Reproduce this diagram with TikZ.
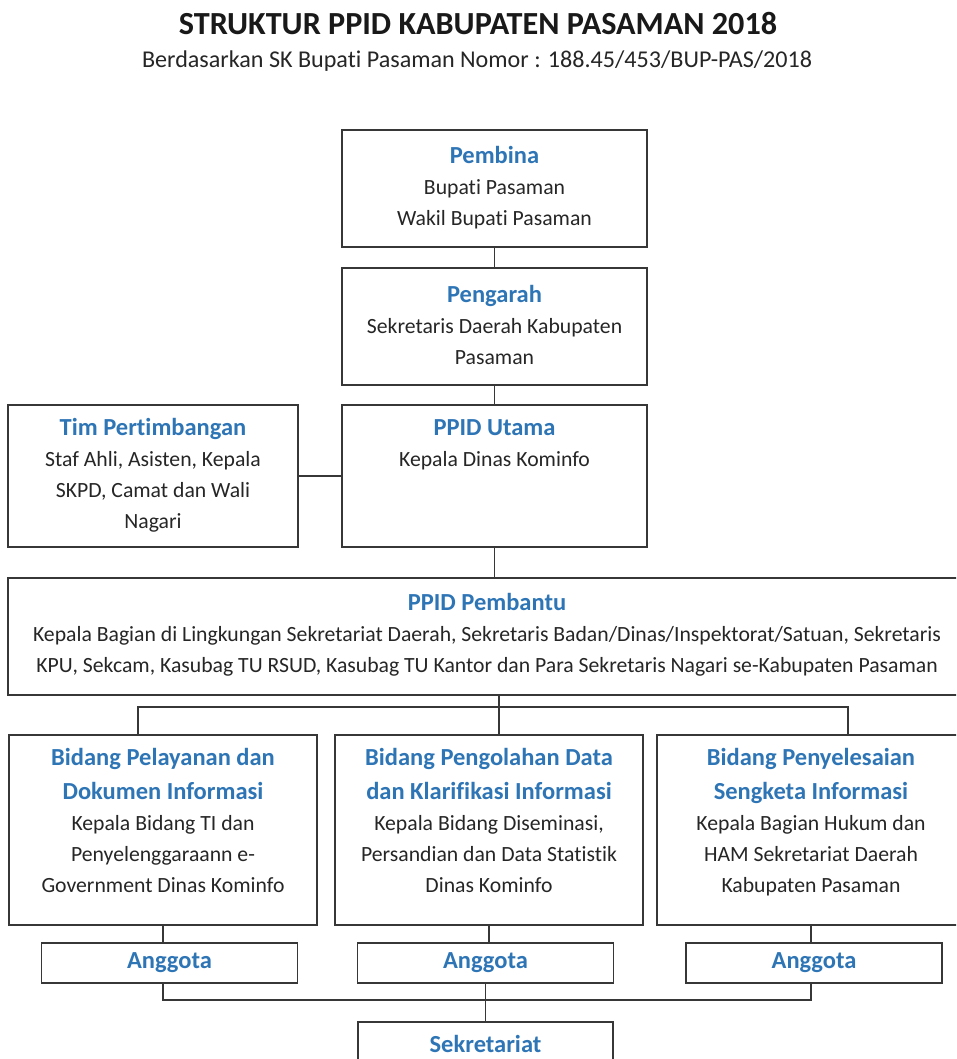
\documentclass[tikz,border=0pt]{standalone}
\usepackage{fontspec}
\setmainfont{Carlito}[Ligatures=NoCommon]
\usetikzlibrary{positioning}

\definecolor{headblue}{RGB}{46,117,182}
\definecolor{bodygray}{RGB}{38,38,38}
\definecolor{linegray}{RGB}{55,55,55}

\newcommand\headsize{\fontsize{24.5}{34}\selectfont}
\newcommand\headf{\headsize\bfseries\color{headblue}}
\newcommand\bodyf{\fontsize{21.7}{31}\selectfont}
\newcommand\hstrut{\rule{0pt}{20pt}}

\tikzset{
  orgbox/.style={draw=linegray, line width=1.7pt, fill=white, inner sep=0pt},
  boxtext/.style={inner sep=0pt, align=center, font=\bodyf, text=bodygray},
  anggota/.style={orgbox, minimum width=256pt, minimum height=40pt, font=\headsize\bfseries, text=headblue},
  link/.style={draw=linegray, line width=1.7pt}
}

\begin{document}
\begin{tikzpicture}[x=1pt,y=-1pt]
\useasboundingbox (0,0) rectangle (956,1059);
\clip (0,0) rectangle (956,1059);
\fill[white] (0,0) rectangle (956,1059);

% judul
\node[font=\fontsize{32.2}{38}\selectfont\bfseries, text=black!90] (title) at (478,23.5) {STRUKTUR PPID KABUPATEN PASAMAN 2018};
\node[font=\fontsize{24.1}{28}\selectfont, text=bodygray] (subtitle) at (477,61) {Berdasarkan SK Bupati Pasaman Nomor : 188.45/453/BUP-PAS/2018};

% kotak atas
\node[orgbox, minimum width=305pt, minimum height=117pt] (pembina) at (494.5,188.5) {};
\node[orgbox, minimum width=305pt, minimum height=117pt] (pengarah) at (494.5,326.5) {};
\node[orgbox, minimum width=305pt, minimum height=142pt] (utama) at (494.5,476) {};
\node[orgbox, minimum width=290pt, minimum height=142pt] (tim) at (153,476) {};
\node[orgbox, minimum width=958pt, minimum height=117pt] (pembantu) at (487,636.5) {};

% bidang
\node[orgbox, minimum width=308pt, minimum height=190pt] (bid1) at (163,830) {};
\node[orgbox, minimum width=308pt, minimum height=190pt] (bid2) at (489,830) {};
\node[orgbox, minimum width=308pt, minimum height=190pt] (bid3) at (811,830) {};

\node[anggota] (ang1) at (169.5,963) {Anggota};
\node[anggota] (ang2) at (485.5,963) {Anggota};
\node[anggota] (ang3) at (814,963) {Anggota};

\node[orgbox, minimum width=255pt, minimum height=60pt] (sek) at (485.5,1052) {};

% teks kotak
\node[boxtext, below=14pt of pembina.north] (pembina-t) {\hstrut{\headf Pembina}\\Bupati Pasaman\\Wakil Bupati Pasaman};
\node[boxtext, below=15pt of pengarah.north] (pengarah-t) {\hstrut{\headf Pengarah}\\Sekretaris Daerah Kabupaten\\Pasaman};
\node[boxtext, below=11pt of utama.north] (utama-t) {\hstrut{\headf PPID Utama}\\Kepala Dinas Kominfo};
\node[boxtext, below=11pt of tim.north] (tim-t) {\hstrut{\headf Tim Pertimbangan}\\Staf Ahli, Asisten, Kepala\\SKPD, Camat dan Wali\\Nagari};
\node[boxtext, below=13pt of pembantu.north] (pembantu-t) {\hstrut{\headf PPID Pembantu}\\Kepala Bagian di Lingkungan Sekretariat Daerah, Sekretaris Badan/Dinas/Inspektorat/Satuan, Sekretaris\\KPU, Sekcam, Kasubag TU RSUD, Kasubag TU Kantor dan Para Sekretaris Nagari se-Kabupaten Pasaman};
\node[boxtext, below=11pt of bid1.north] (bid1-t) {\hstrut{\headf Bidang Pelayanan dan}\\[3pt]{\headf Dokumen Informasi}\\Kepala Bidang TI dan\\Penyelenggaraann e-\\Government Dinas Kominfo};
\node[boxtext, below=11pt of bid2.north] (bid2-t) {\hstrut{\headf Bidang Pengolahan Data}\\[3pt]{\headf dan Klarifikasi Informasi}\\Kepala Bidang Diseminasi,\\Persandian dan Data Statistik\\Dinas Kominfo};
\node[boxtext, below=11pt of bid3.north] (bid3-t) {\hstrut{\headf Bidang Penyelesaian}\\[3pt]{\headf Sengketa Informasi}\\Kepala Bagian Hukum dan\\HAM Sekretariat Daerah\\Kabupaten Pasaman};
\node[boxtext, below=11pt of sek.north] (sek-t) {\hstrut{\headf Sekretariat}};

% garis penghubung
\draw[link] (pembina) -- (pengarah);
\draw[link] (pengarah) -- (utama);
\draw[link] (tim) -- (utama);
\draw[link] (utama.south) -- (utama.south |- pembantu.north);

\coordinate (split) at (499,707);
\draw[link] (pembantu.south -| split) -- (split |- bid2.north);
\draw[link] ([xshift=-25pt]bid1.north) |- (split) -| ([xshift=37pt]bid3.north);

\draw[link] (bid1.south) -- (bid1.south |- ang1.north);
\draw[link] (bid2.south) -- (bid2.south |- ang2.north);
\draw[link] (bid3.south) -- (bid3.south |- ang3.north);

\coordinate (merge) at (486,1000);
\draw[link] (ang1.south -| bid1.south) |- (merge) -| (ang3.south -| bid3.south);
\draw[link] (ang2) -- (sek);
\end{tikzpicture}
\end{document}
